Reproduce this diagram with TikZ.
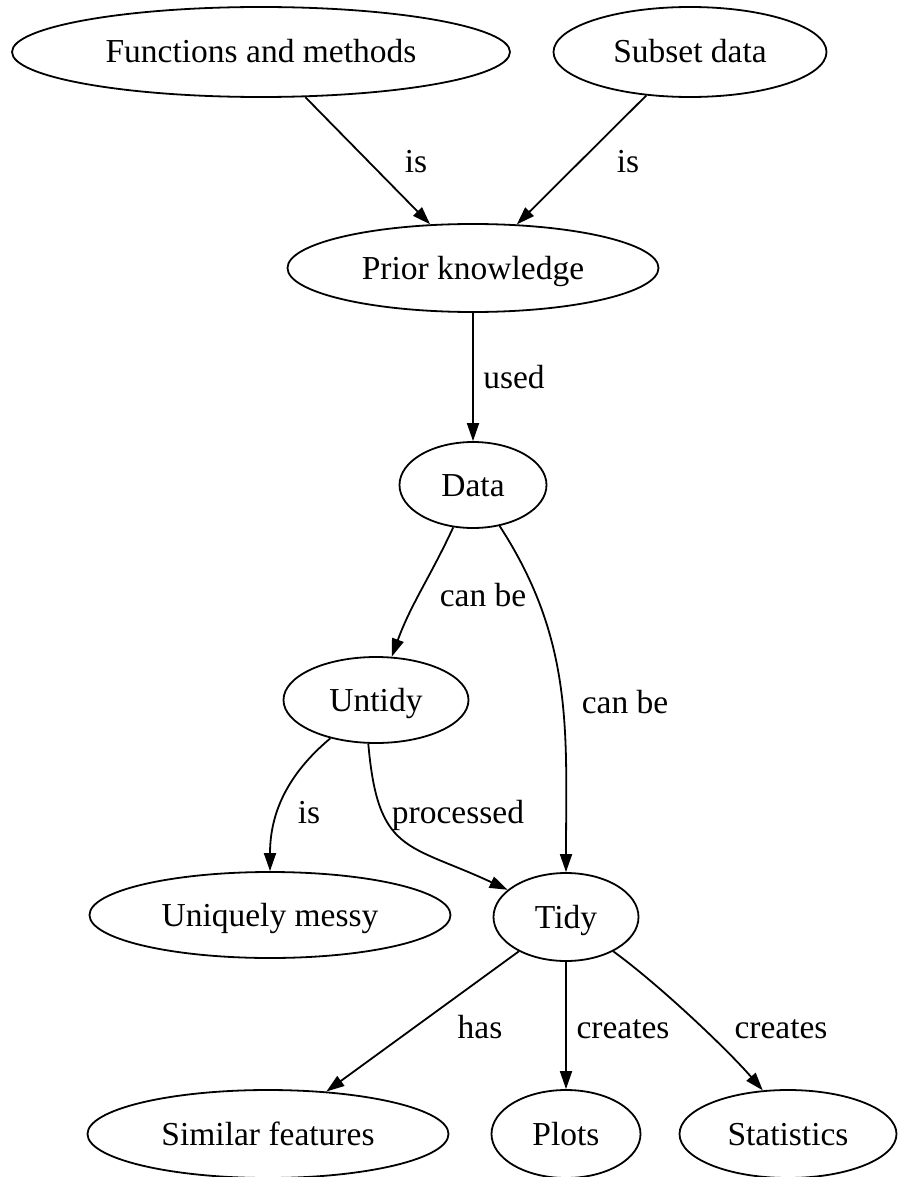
\documentclass[tikz,border=0pt]{standalone}
\usepackage{fontspec}
\setmainfont{Liberation Serif}
\usetikzlibrary{shapes.geometric}
\usetikzlibrary{arrows.meta}
\usetikzlibrary{positioning}

\begin{document}
\begin{tikzpicture}[
  x=1pt, y=1pt, on grid,
  font=\fontsize{33.5}{40}\selectfont,
  concept/.style={ellipse, draw, line width=1.8pt, inner sep=0pt, text height=26pt, text depth=4pt},
  lbl/.style={inner sep=0pt, text height=26pt, text depth=4pt},
  link/.style={->, line width=1.8pt},
]
\tikzset{>={Triangle[length=18pt, width=12pt]}}
\useasboundingbox (0,0) rectangle (898,-1177);

\node (fun) [concept, minimum width=498pt, minimum height=90pt] at (261,-52) {Functions and methods};
\node (sub) [concept, minimum width=273pt, minimum height=90pt, right=429pt of fun] {Subset data};
\node (prior) [concept, minimum width=371pt, minimum height=88pt, below right=216pt and 212pt of fun] {Prior knowledge};
\node (data) [concept, minimum width=147pt, minimum height=86pt, below=217pt of prior] {Data};
\node (untidy) [concept, minimum width=185pt, minimum height=86pt, below left=215pt and 97pt of data] {Untidy};
\node (messy) [concept, minimum width=361pt, minimum height=86pt, below left=215pt and 106pt of untidy] {Uniquely messy};
\node (tidy) [concept, minimum width=145pt, minimum height=88pt, below right=432pt and 93pt of data] {Tidy};
\node (plots) [concept, minimum width=149pt, minimum height=88pt, below=217pt of tidy] {Plots};
\node (similar) [concept, minimum width=361pt, minimum height=88pt, left=298pt of plots] {Similar features};
\node (stats) [concept, minimum width=217pt, minimum height=88pt, right=222pt of plots] {Statistics};

\draw[link] (fun) -- (prior);
\draw[link] (sub) -- (prior);
\draw[link] (prior) -- (data);
\draw[link] (data) to[out=-115, in=70] (untidy);
\draw[link] (data) to[out=-57, in=90] (tidy);
\draw[link] (untidy) to[out=-140, in=90] (messy);
\draw[link] (untidy.-100) to[out=-85, in=155, looseness=1.4] (tidy);
\draw[link] (tidy) -- (similar);
\draw[link] (tidy) -- (plots);
\draw[link] (tidy) to[out=-36, in=131, looseness=0.7] (stats.120);

% edge labels
\node (is-fun) [lbl] at (416,-162) {is};
\node (is-sub) [lbl] at (628,-162) {is};
\node (used) [lbl] at (514,-377) {used};
\node (canbe-untidy) [lbl] at (483,-595) {can be};
\node (canbe-tidy) [lbl] at (625,-702) {can be};
\node (is-messy) [lbl] at (309,-812) {is};
\node (processed) [lbl] at (458,-812) {processed};
\node (has) [lbl] at (480,-1027) {has};
\node (creates-plots) [lbl] at (623,-1027) {creates};
\node (creates-stats) [lbl] at (781,-1027) {creates};
\end{tikzpicture}
\end{document}
